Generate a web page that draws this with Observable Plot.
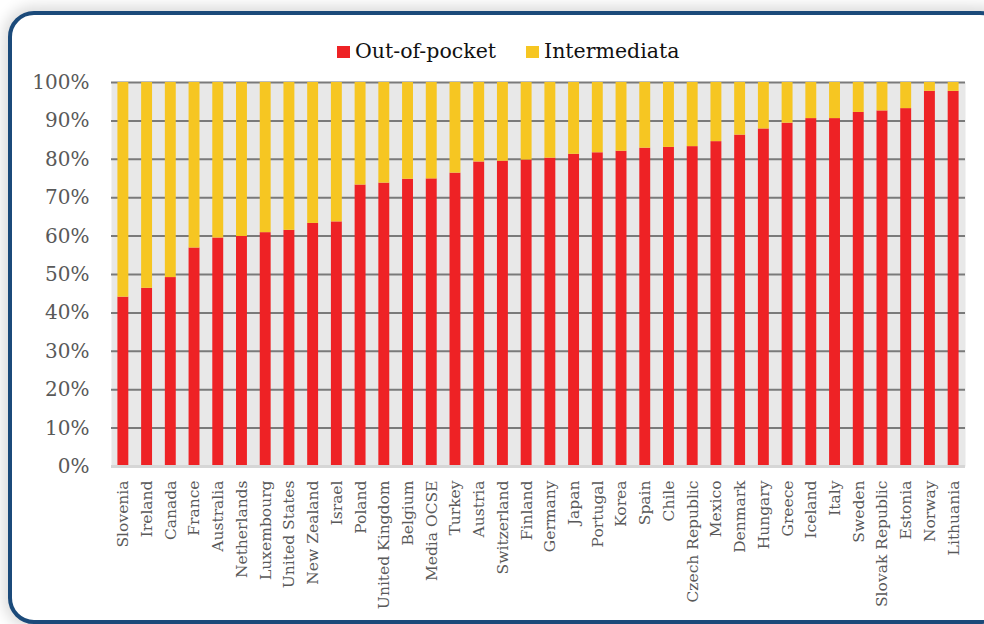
<!DOCTYPE html>
<html>
<head>
<meta charset="utf-8">
<script src="https://cdn.jsdelivr.net/npm/d3@7"></script>
<script src="https://cdn.jsdelivr.net/npm/@observablehq/plot@0.6"></script>
<style>
  html, body { margin: 0; padding: 0; background: #ffffff; }
  body { width: 984px; height: 624px; overflow: hidden; position: relative; font-family: "DejaVu Serif", serif; }
  #frame {
    position: absolute; left: 8px; top: 11px; width: 990px; height: 605px;
    border: 4px solid #1b4a7a; border-radius: 26px; background: #fff;
    box-shadow: 0 0 14px 5px rgba(0,0,0,0.14);
  }
  #legend {
    position: absolute; top: 38px; left: 337px; height: 26px;
    display: flex; align-items: center; font-size: 20.5px; color: #111;
  }
  #legend .sw { display: inline-block; width: 13px; height: 12px; margin-right: 5px; position: relative; top: 1px; }
  #legend .item { display: flex; align-items: center; margin-right: 30px; }
  #chart { position: absolute; left: 0; top: 70px; }
</style>
</head>
<body>
<div id="frame"></div>
<div id="legend"></div>
<div id="chart"></div>
<script>
const countries = ["Slovenia","Ireland","Canada","France","Australia","Netherlands","Luxembourg","United States","New Zealand","Israel","Poland","United Kingdom","Belgium","Media OCSE","Turkey","Austria","Switzerland","Finland","Germany","Japan","Portugal","Korea","Spain","Chile","Czech Republic","Mexico","Denmark","Hungary","Greece","Iceland","Italy","Sweden","Slovak Republic","Estonia","Norway","Lithuania"];
const outOfPocket = [44.1,46.4,49.2,56.9,59.5,59.9,60.9,61.5,63.3,63.7,73.3,73.8,74.8,74.9,76.4,79.3,79.5,79.8,80.3,81.3,81.7,82.1,82.9,83.1,83.3,84.6,86.3,87.9,89.4,90.6,90.6,92.2,92.6,93.2,97.7,97.7];
const intermediata = outOfPocket.map(v => +(100 - v).toFixed(1));
const seriesNames = ["Out-of-pocket", "Intermediata"];
const seriesColors = ["#ee2225", "#f6c622"];
const yTicks = [0,10,20,30,40,50,60,70,80,90,100];

const data = [];
countries.forEach((c, i) => {
  data.push({country: c, series: seriesNames[0], value: outOfPocket[i]});
  data.push({country: c, series: seriesNames[1], value: intermediata[i]});
});

const legend = document.getElementById("legend");
seriesNames.forEach((s, i) => {
  const item = document.createElement("span");
  item.className = "item";
  const sw = document.createElement("span");
  sw.className = "sw";
  sw.style.background = seriesColors[i];
  item.appendChild(sw);
  item.appendChild(document.createTextNode(s));
  legend.appendChild(item);
});

const chart = Plot.plot({
  width: 984,
  height: 554,
  marginLeft: 111,
  marginRight: 19,
  marginTop: 12,
  marginBottom: 158,
  style: { fontFamily: "DejaVu Serif, serif", background: "transparent" },
  x: { domain: countries, paddingInner: 0.54, paddingOuter: 0.27, round: false, label: null },
  y: { domain: [0, 100], label: null },
  color: { domain: seriesNames, range: seriesColors },
  marks: [
    Plot.frame({ fill: "#e8e8e8", stroke: null }),
    Plot.ruleY(yTicks.filter(d => d > 0), { stroke: "#7a7a7a", strokeWidth: 2 }),
    Plot.barY(data, { x: "country", y: "value", fill: "series", order: seriesNames }),
    Plot.ruleY([0], { stroke: "#d6d6d6", strokeWidth: 3 }),
    Plot.axisY({ ticks: yTicks, tickFormat: d => d + "%", tickSize: 0, tickPadding: 22, fontSize: 20, color: "#595959" }),
    Plot.axisX({ tickRotate: -90, tickSize: 0, tickPadding: 14, fontSize: 15.5, color: "#595959" })
  ]
});
document.getElementById("chart").appendChild(chart);
</script>
</body>
</html>
